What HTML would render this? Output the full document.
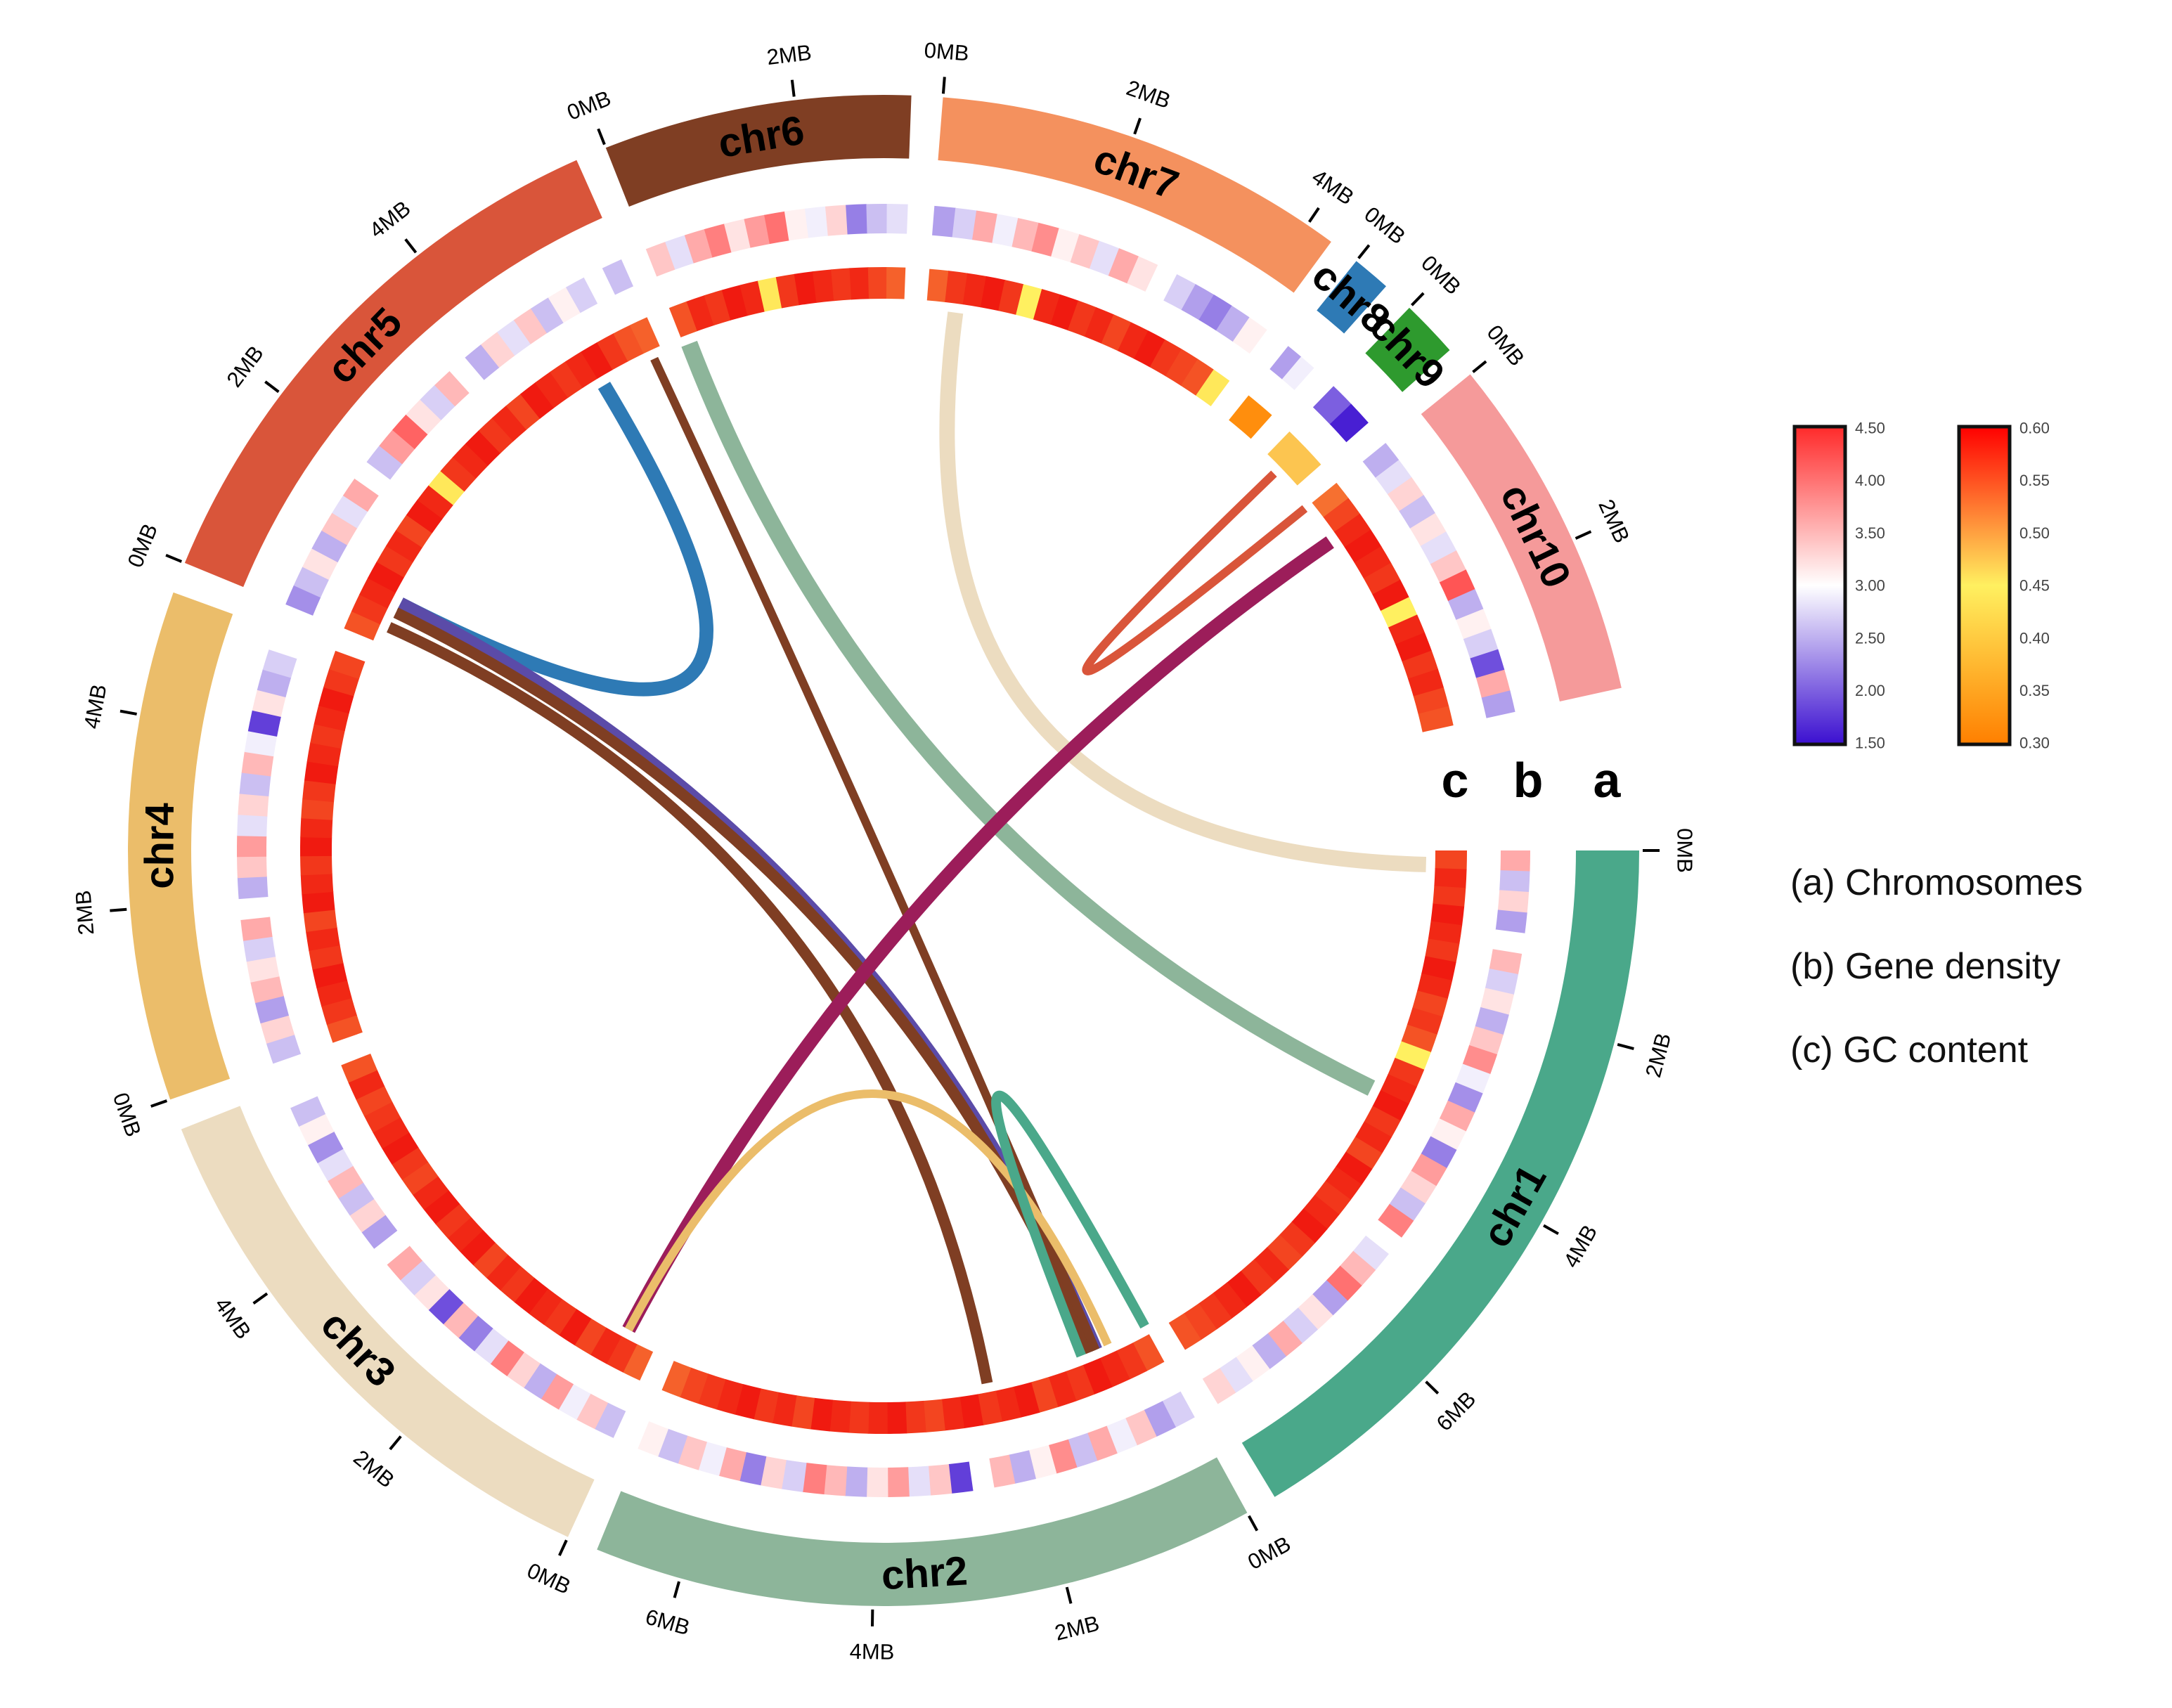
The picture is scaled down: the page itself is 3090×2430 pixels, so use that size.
<!DOCTYPE html>
<html><head><meta charset="utf-8"><style>
html,body{margin:0;padding:0;background:#fff;}
svg{display:block;font-family:"Liberation Sans",Arial,sans-serif;}
</style></head><body>
<svg id="chart" width="3090" height="2430" viewBox="0 0 3090 2430" xmlns="http://www.w3.org/2000/svg">
<defs>
<linearGradient id="gdGrad" x1="0" y1="1" x2="0" y2="0">
<stop offset="0" stop-color="#3b0fd0"/><stop offset="0.5" stop-color="#ffffff"/><stop offset="1" stop-color="#ff2a2a"/>
</linearGradient>
<linearGradient id="gcGrad" x1="0" y1="1" x2="0" y2="0">
<stop offset="0" stop-color="#ff7f00"/><stop offset="0.5" stop-color="#fff060"/><stop offset="1" stop-color="#ff0000"/>
</linearGradient>
</defs>
<g id="circ"></g>
<g id="legend"></g>
</svg>
<script>
const chromNames = ["chr1","chr2","chr3","chr4","chr5","chr6","chr7","chr8","chr9","chr10"];
const chromSizes = [7.95,6.9,5.9,5.3,5.9,3.2,4.3,0.4,0.6,3.6];
const chromColors = ["#4aa88a","#8db59a","#ecdcc0","#ebbd6a","#d9553a","#7f3e23","#f4915e","#2e7ab5","#2e9a2e","#f59a9a"];
const tickLabels = ["0MB","2MB","4MB","6MB","8MB"];
const geneDensity = [
 [3.6,2.6,3.3,2.4,3.0,3.5,2.7,3.2,2.5,3.4,3.8,2.9,2.3,3.6,3.1,2.2,3.7,3.3,2.6,3.9,3.0,2.8,3.5,4.0,2.4,3.2,2.7,3.6,2.5,3.1,2.8,3.3],
 [2.7,2.4,3.4,2.9,3.6,2.6,3.8,3.1,2.5,3.5,3.0,1.8,3.4,2.8,3.7,3.2,2.5,3.5,3.9,2.7,3.3,2.2,3.6,2.9,3.4,2.6,3.1],
 [2.6,3.4,2.9,3.7,2.5,3.3,3.9,2.8,2.2,3.5,1.9,3.2,2.7,3.6,3.0,2.4,3.3,2.6,3.5,2.8,2.3,3.1,2.6,3.0],
 [2.6,3.3,2.4,3.5,3.2,2.7,3.6,3.0,2.5,3.4,3.7,2.8,3.3,2.6,3.5,2.9,1.8,3.2,2.5,2.7,3.0],
 [2.3,2.6,3.2,2.5,3.4,2.8,3.6,3.0,2.6,3.7,4.1,3.2,2.7,3.5,3.0,2.5,3.3,2.8,3.4,2.6,3.1,2.7,3.0,2.6],
 [3.4,2.8,3.6,3.9,3.2,3.7,4.0,3.1,2.9,3.3,2.2,2.6,2.8],
 [2.4,2.7,3.6,2.9,3.5,3.8,3.1,3.4,2.8,3.6,3.2,3.0,2.7,2.4,2.2,2.5,3.1],
 [2.4,2.9],
 [2.0,1.6],
 [2.5,2.8,3.3,2.6,3.2,2.8,3.4,4.2,2.5,3.1,2.7,1.9,3.6,2.4]
];
const gcContent = [
 [0.57,0.59,0.58,0.60,0.59,0.58,0.60,0.59,0.57,0.58,0.56,0.45,0.58,0.59,0.60,0.58,0.59,0.57,0.60,0.59,0.58,0.59,0.60,0.58,0.57,0.59,0.58,0.60,0.59,0.58,0.57,0.56],
 [0.56,0.58,0.59,0.60,0.58,0.59,0.57,0.60,0.59,0.58,0.60,0.59,0.57,0.58,0.60,0.59,0.58,0.59,0.60,0.57,0.59,0.58,0.60,0.59,0.58,0.57,0.55],
 [0.55,0.58,0.59,0.57,0.60,0.58,0.59,0.60,0.58,0.59,0.57,0.60,0.59,0.58,0.60,0.59,0.57,0.58,0.60,0.59,0.58,0.57,0.59,0.56],
 [0.56,0.58,0.59,0.60,0.58,0.59,0.57,0.60,0.59,0.58,0.60,0.59,0.57,0.58,0.60,0.59,0.58,0.59,0.60,0.58,0.57],
 [0.56,0.58,0.59,0.60,0.58,0.59,0.57,0.60,0.59,0.44,0.58,0.59,0.60,0.58,0.59,0.57,0.60,0.59,0.58,0.59,0.60,0.58,0.56,0.55],
 [0.56,0.59,0.58,0.60,0.59,0.44,0.58,0.60,0.59,0.58,0.59,0.57,0.55],
 [0.55,0.58,0.59,0.60,0.58,0.45,0.59,0.60,0.58,0.59,0.57,0.59,0.60,0.58,0.57,0.56,0.44],
 [0.32,0.32],
 [0.48,0.48],
 [0.54,0.57,0.59,0.60,0.59,0.58,0.60,0.45,0.59,0.60,0.58,0.59,0.57,0.56]
];
// links: [chromIdx, posMB]
const linkA = [[4,4.95],[4,0.63],[4,0.49],[4,0.26],[4,5.76],[5,0.08],[6,0.42],[8,0.26],[9,0.6],[2,0.45],[1,1.0]];
const linkB = [[4,0.63],[1,0.78],[1,0.85],[1,2.4],[1,0.78],[0,3.51],[0,0.2],[9,0.0],[2,0.45],[1,0.59],[1,0.0]];
const linkColors = ["#2e7ab5","#5b4ba8","#7f3e23","#7f3e23","#7f3e23","#8db59a","#ecdcc0","#d9553a","#9c1d5a","#ebbd6a","#4aa88a"];
const linkWidths = [20,20,16,16,12,24,22,12,20,12,14];
</script>
<script>
const NS="http://www.w3.org/2000/svg";
const CX=1257, CY=1210;
const DEG_PER_MB=7.4, GAP=2.4, START=90;
const circ=document.getElementById('circ');
const legend=document.getElementById('legend');
const starts=[];
{let a=START;for(let i=0;i<chromSizes.length;i++){starts.push(a);a+=chromSizes[i]*DEG_PER_MB+GAP;}}
function ang(c,mb){return starts[c]+mb*DEG_PER_MB;}
function pt(a,r){const t=a*Math.PI/180;return [CX+r*Math.sin(t),CY-r*Math.cos(t)];}
function sector(a0,a1,r0,r1){
 const p0=pt(a0,r1),p1=pt(a1,r1),p2=pt(a1,r0),p3=pt(a0,r0);const lg=(a1-a0)>180?1:0;
 return `M${p0[0]},${p0[1]}A${r1},${r1} 0 ${lg} 1 ${p1[0]},${p1[1]}L${p2[0]},${p2[1]}A${r0},${r0} 0 ${lg} 0 ${p3[0]},${p3[1]}Z`;
}
function mk(tag,attrs,parent){const e=document.createElementNS(NS,tag);for(const k in attrs)e.setAttribute(k,attrs[k]);(parent||circ).appendChild(e);return e;}
function lerp(c1,c2,t){const a=[1,3,5].map(i=>parseInt(c1.substr(i,2),16)),b=[1,3,5].map(i=>parseInt(c2.substr(i,2),16));return 'rgb('+a.map((v,i)=>Math.round(v+(b[i]-v)*t)).join(',')+')';}
function gdColor(v){const t=Math.max(0,Math.min(1,(v-1.5)/3));return t<0.5?lerp('#3b0fd0','#ffffff',t/0.5):lerp('#ffffff','#ff2a2a',(t-0.5)/0.5);}
function gcColor(v){const t=Math.max(0,Math.min(1,(v-0.3)/0.3));return t<0.5?lerp('#ff7f00','#fff060',t/0.5):lerp('#fff060','#f01a10',(t-0.5)/0.5);}
function rotFor(a){let n=((a%360)+360)%360;return (n>100&&n<260)?n+180:n;}

for(let i=0;i<linkA.length;i++){
 const a1=ang(linkA[i][0],linkA[i][1]),a2=ang(linkB[i][0],linkB[i][1]);
 const p1=pt(a1,772),p2=pt(a2,772);
 const e=mk('path',{d:`M${p1[0]},${p1[1]}Q${CX},${CY} ${p2[0]},${p2[1]}`,fill:'none',stroke:linkColors[i],'stroke-width':linkWidths[i]});
 
 
}

for(let c=0;c<chromNames.length;c++){
 const a0=starts[c],a1=a0+chromSizes[c]*DEG_PER_MB;
 const g=mk('g',{});
 
 
 const s=mk('path',{d:sector(a0,a1,985,1075),fill:chromColors[c]},g);
 
 
 const am=(a0+a1)/2,lp=pt(am,1030),rot=rotFor(am);
 const t=mk('text',{x:lp[0],y:lp[1],'text-anchor':'middle','dominant-baseline':'central','font-size':58,'font-weight':'bold',fill:'#000',transform:`rotate(${rot} ${lp[0]} ${lp[1]})`},g);
 t.textContent=chromNames[c];
 
 
 for(let k=0;k*2<=chromSizes[c];k++){
  const ta=ang(c,k*2),q0=pt(ta,1080),q1=pt(ta,1104),q2=pt(ta,1140);
  const l=mk('line',{x1:q0[0],y1:q0[1],x2:q1[0],y2:q1[1],stroke:'#000','stroke-width':4},g);
  
  
  const tr=rotFor(ta);
  const tt=mk('text',{x:q2[0],y:q2[1],'text-anchor':'middle','dominant-baseline':'central','font-size':31,fill:'#000',transform:`rotate(${tr} ${q2[0]} ${q2[1]})`},g);
  tt.textContent=tickLabels[k];
  
  
 }
 const gd=geneDensity[c],span=a1-a0;
 for(let j=0;j<gd.length;j++){
  const b=mk('path',{d:sector(a0+span*j/gd.length,a0+span*(j+1)/gd.length+0.05,878,920),fill:gdColor(gd[j])},g);
  
  
 }
 const gc=gcContent[c];
 for(let j=0;j<gc.length;j++){
  const b=mk('path',{d:sector(a0+span*j/gc.length,a0+span*(j+1)/gc.length+0.05,785,830),fill:gcColor(gc[j])},g);
  
  
 }
}

const trackLetters=["c","b","a"],trackX=[2070,2174,2286];
for(let i=0;i<3;i++){
 const t=mk('text',{x:trackX[i],y:1110,'text-anchor':'middle','dominant-baseline':'central','font-size':70,'font-weight':'bold',fill:'#000'},legend);
 t.textContent=trackLetters[i];
 
 
}
const gdTicks=["4.50","4.00","3.50","3.00","2.50","2.00","1.50"];
const gcTicks=["0.60","0.55","0.50","0.45","0.40","0.35","0.30"];
function bar(x,grad,ticks,name){
 const r=mk('rect',{x:x,y:607,width:72,height:452,fill:`url(#${grad})`,stroke:'#111','stroke-width':5},legend);
 
 
 for(let i=0;i<ticks.length;i++){
  const y=609+i*74.7;
  const t=mk('text',{x:x+86,y:y,'dominant-baseline':'central','font-size':22,fill:'#444'},legend);
  t.textContent=ticks[i];
  
  
 }
}
bar(2553,'gdGrad',gdTicks,'gene-density');
bar(2787,'gcGrad',gcTicks,'gc-content');
const legTexts=["(a) Chromosomes","(b) Gene density","(c) GC content"];
for(let i=0;i<3;i++){
 const t=mk('text',{x:2547,y:1256+i*119,'dominant-baseline':'central','font-size':52,fill:'#111'},legend);
 t.textContent=legTexts[i];
 
 
}
</script>
</body></html>
